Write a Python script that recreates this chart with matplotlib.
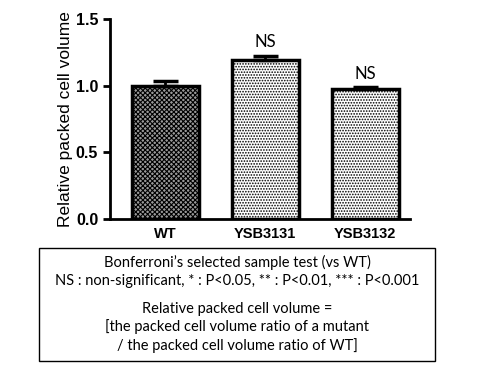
import numpy as np
import matplotlib
matplotlib.use('Agg')
import matplotlib.pyplot as plt
from matplotlib.patches import Rectangle

# Data
strains = ['WT', 'YSB3131', 'YSB3132']
means = [1.00, 1.19, 0.977]
errors = [0.035, 0.035, 0.012]
hatches = ['xxxxxxx', '......', '......']
fills = ['#9a9a9a', 'white', 'white']
sig_labels = ['', 'NS', 'NS']
y_ticks = [0.0, 0.5, 1.0, 1.5]

note_lines = [
    "Bonferroni\u2019s selected sample test (vs WT)",
    "NS : non-significant, * : P<0.05, ** : P<0.01, *** : P<0.001",
    "Relative packed cell volume =",
    "[the packed cell volume ratio of a mutant",
    "/ the packed cell volume ratio of WT]",
]

plt.rcParams['hatch.linewidth'] = 0.8
plt.rcParams['hatch.color'] = 'black'
fig = plt.figure(figsize=(4.8, 3.7), dpi=100)
W, H = 480, 370
# axes: left spine x=110, right end x=410; y 0.0 at 218.7, 1.5 at 19
ax = fig.add_axes([110 / W, 1 - 218.7 / H, 300 / W, (218.7 - 19) / H])

x = np.arange(len(strains))
# hatched fill first, then a heavy outline on top
for xi, m, h, f in zip(x, means, hatches, fills):
    ax.bar(xi, m, width=0.67, color=f, edgecolor='black', linewidth=0,
           hatch=h, zorder=1)
ax.bar(x, means, width=0.67, facecolor='none', edgecolor='black',
       linewidth=2.5, zorder=2)
ax.errorbar(x, means, yerr=[np.zeros(3), errors], fmt='none', ecolor='black',
            elinewidth=2, capsize=9, capthick=2.5, zorder=3)
for xi, m, e, s in zip(x, means, errors, sig_labels):
    if s:
        ax.text(xi, m + e + 0.04, s, ha='center', va='bottom', fontsize=12,
                family='Lato')

ax.set_xlim(-0.55, 2.45)
ax.set_ylim(0, 1.5)
ax.set_yticks(y_ticks)
ax.set_yticklabels([f'{t:.1f}' for t in y_ticks], fontsize=11.5,
                   fontweight='bold', family='Liberation Sans')
ax.set_xticks(x)
ax.set_xticklabels(strains, fontsize=10.5, fontweight='bold',
                   family='Liberation Sans')
ax.tick_params(axis='y', width=2, length=5)
ax.tick_params(axis='x', length=0, pad=6)
for sp in ['top', 'right']:
    ax.spines[sp].set_visible(False)
for sp in ['left', 'bottom']:
    ax.spines[sp].set_linewidth(2)
ax.set_ylabel('Relative packed cell volume', fontsize=12.5,
              family='Liberation Sans', labelpad=2)

# note box
fig.patches.append(Rectangle((39 / W, 1 - 361 / H), (435 - 39) / W, (361 - 248) / H,
                             transform=fig.transFigure, fill=False,
                             edgecolor='black', linewidth=1))
ys = [262, 281, 309, 327, 346]
for yy, t in zip(ys, note_lines):
    fig.text(237 / W, 1 - yy / H, t, ha='center', va='center', fontsize=10.5,
             family='Lato')

fig.savefig('out.png', dpi=100)
